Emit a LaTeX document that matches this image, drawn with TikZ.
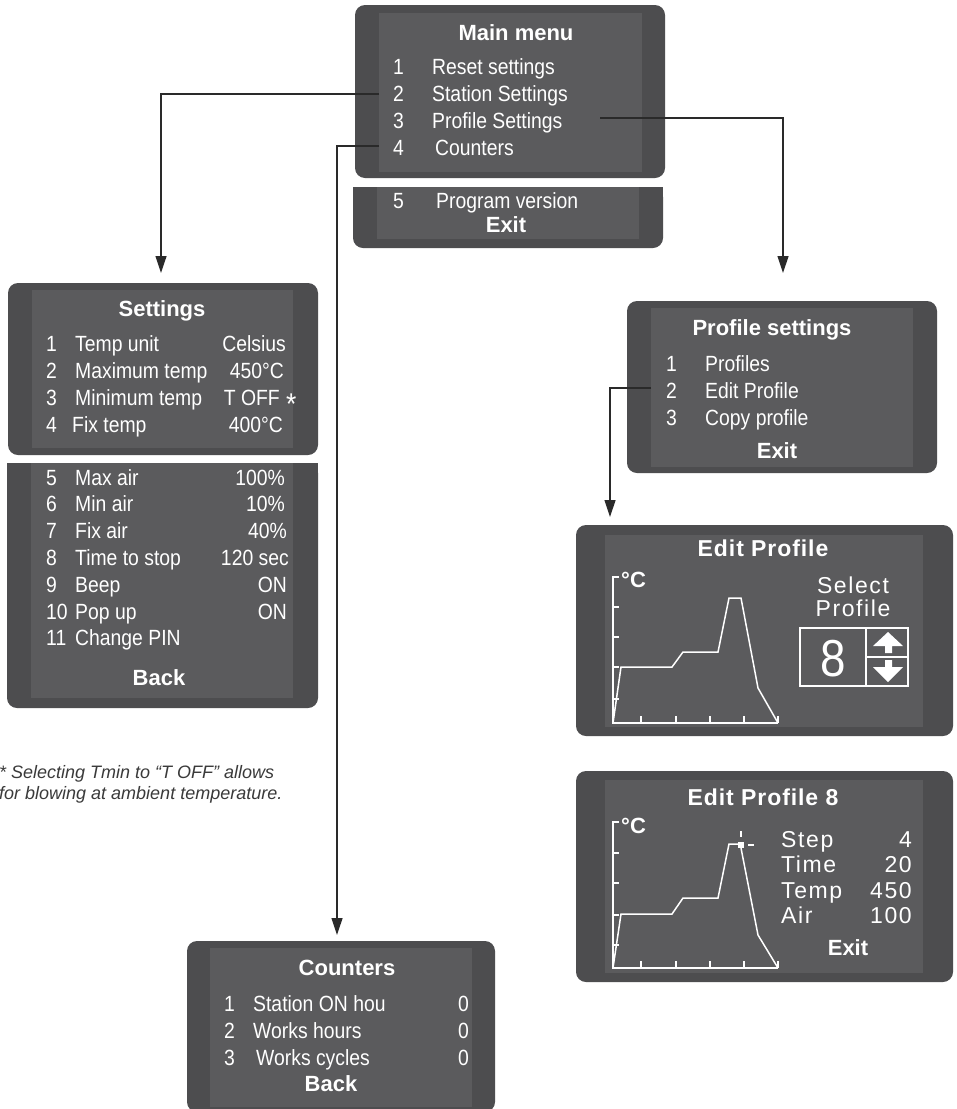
\documentclass[tikz,border=0pt]{standalone}
\usepackage{fontspec}
\setmainfont{Liberation Sans}
\newfontfamily\lcdfont[FakeStretch=0.88]{Liberation Sans}
\newfontfamily\lcdbold{Liberation Sans Bold}
\newfontfamily\lcdwide[LetterSpace=4]{Liberation Sans Bold}
\newfontfamily\lcdspaced[LetterSpace=7]{Liberation Sans}
\usetikzlibrary{arrows.meta}
\definecolor{boxout}{HTML}{4D4D4F}
\definecolor{boxin}{HTML}{5B5B5D}
\definecolor{connc}{HTML}{2A2A2A}
\definecolor{notec}{HTML}{3A3A3A}
\tikzset{
  outerfill/.style={fill=boxout, rounded corners=10pt},
  innerfill/.style={fill=boxin},
  lcd/.style={text=white, font=\lcdfont\fontsize{22}{24}\selectfont, inner sep=0pt, anchor=base west},
  lcdr/.style={lcd, anchor=base east},
  ttl/.style={text=white, font=\lcdbold\fontsize{22}{24}\selectfont, inner sep=0pt, anchor=base},
  ttlw/.style={text=white, font=\lcdwide\fontsize{23}{25}\selectfont, inner sep=0pt, anchor=base},
  spc/.style={text=white, font=\lcdspaced\fontsize{23}{25}\selectfont, inner sep=0pt, anchor=base west},
  spcr/.style={spc, anchor=base east},
  degc/.style={text=white, font=\lcdbold\fontsize{22}{24}\selectfont, inner sep=0pt, anchor=base west},
  chartline/.style={draw=white, line width=1.5pt, line join=miter},
  conn/.style={draw=connc, line width=1.2pt, -{Triangle[width=11pt,length=17pt]}},
  note/.style={text=notec, font=\itshape\fontsize{18}{20}\selectfont, inner sep=0pt, anchor=base west},
}
\begin{document}
\begin{tikzpicture}[x=1pt,y=-1pt]
\useasboundingbox (0,0) rectangle (957,1109);
\fill[white] (0,0) rectangle (957,1109);

% ---------- Main menu ----------
\fill[outerfill] (355,5) rectangle (665,178);
\fill[innerfill] (379,13) rectangle (642,172);
\fill[outerfill] (353,187) rectangle (663,248);
\fill[boxout] (353,187) rectangle (663,200);
\fill[innerfill] (377,187) rectangle (639,239);
\node[ttl] (mmT) at (516,40) {Main menu};
\node[lcd] (mm1n) at (393,74) {1};
\node[lcd] (mm1t) at (432,74) {Reset settings};
\node[lcd] (mm2n) at (393,101) {2};
\node[lcd] (mm2t) at (432,101) {Station Settings};
\node[lcd] (mm3n) at (393,128) {3};
\node[lcd] (mm3t) at (432,128) {Profile Settings};
\node[lcd] (mm4n) at (393,155) {4};
\node[lcd] (mm4t) at (435,155) {Counters};
\node[lcd] (mm5n) at (393,208) {5};
\node[lcd] (mm5t) at (436,208) {Program version};
\node[ttl] (mmX) at (506,232) {Exit};

% ---------- Settings ----------
\fill[outerfill] (8,283) rectangle (318,455);
\fill[innerfill] (32,290) rectangle (293,448);
\fill[outerfill] (7,463) rectangle (318,708);
\fill[boxout] (7,463) rectangle (318,476);
\fill[innerfill] (31,463) rectangle (293,698);
\node[ttl] (stT) at (162,316) {Settings};
\node[lcd] (st1n) at (46,351) {1};
\node[lcd] (st1t) at (75,351) {Temp unit};
\node[lcdr] (st1v) at (286,351) {Celsius};
\node[lcd] (st2n) at (46,378) {2};
\node[lcd] (st2t) at (75,378) {Maximum temp};
\node[lcdr] (st2v) at (284,378) {450°C};
\node[lcd] (st3n) at (46,405) {3};
\node[lcd] (st3t) at (75,405) {Minimum temp};
\node[lcdr] (st3v) at (280,405) {T OFF};
\node[text=white, font=\lcdfont\fontsize{30}{30}\selectfont, inner sep=0pt, anchor=base west, text height=22pt, text depth=-12pt] (st3s) at (286,414) {*};
\node[lcd] (st4n) at (46,432) {4};
\node[lcd] (st4t) at (72,432) {Fix temp};
\node[lcdr] (st4v) at (283,432) {400°C};
\node[lcd] (st5n) at (46,485) {5};
\node[lcd] (st5t) at (75,485) {Max air};
\node[lcdr] (st5v) at (285,485) {100\%};
\node[lcd] (st6n) at (46,511) {6};
\node[lcd] (st6t) at (75,511) {Min air};
\node[lcdr] (st6v) at (285,511) {10\%};
\node[lcd] (st7n) at (46,538) {7};
\node[lcd] (st7t) at (75,538) {Fix air};
\node[lcdr] (st7v) at (287,538) {40\%};
\node[lcd] (st8n) at (46,565) {8};
\node[lcd] (st8t) at (75,565) {Time to stop};
\node[lcdr] (st8v) at (289,565) {120 sec};
\node[lcd] (st9n) at (46,592) {9};
\node[lcd] (st9t) at (75,592) {Beep};
\node[lcdr] (st9v) at (287,592) {ON};
\node[lcd] (st10n) at (46,619) {10};
\node[lcd] (st10t) at (75,619) {Pop up};
\node[lcdr] (st10v) at (287,619) {ON};
\node[lcd] (st11n) at (46,645) {11};
\node[lcd] (st11t) at (75,645) {Change PIN};
\node[ttl] (stB) at (159,685) {Back};

% ---------- Footnote ----------
\node[note] (fn1) at (-1,778) {* Selecting Tmin to “T OFF” allows};
\node[note] (fn2) at (-1,799) {for blowing at ambient temperature.};

% ---------- Profile settings ----------
\fill[outerfill] (627,301) rectangle (937,473);
\fill[innerfill] (651,308) rectangle (913,467);
\node[ttl] (psT) at (772,335) {Profile settings};
\node[lcd] (ps1n) at (666,371) {1};
\node[lcd] (ps1t) at (705,371) {Profiles};
\node[lcd] (ps2n) at (666,398) {2};
\node[lcd] (ps2t) at (705,398) {Edit Profile};
\node[lcd] (ps3n) at (666,425) {3};
\node[lcd] (ps3t) at (705,425) {Copy profile};
\node[ttl] (psX) at (777,458) {Exit};

% ---------- Edit Profile ----------
\fill[outerfill] (576,525) rectangle (953,736);
\fill[innerfill] (605,535) rectangle (923,727);
\node[ttlw] (epT) at (763,556) {Edit Profile};
\node[degc] (epdeg) at (621,587) {°C};
\draw[chartline] (619,577) -- (613,577) -- (613,723) -- (778,723);
\foreach \yy in {607,637,667,699} \draw[chartline] (613,\yy) -- (619,\yy);
\foreach \xx in {641,676,710,744,778} \draw[chartline] (\xx,723) -- (\xx,716);
\draw[chartline] (613,723) -- (621,667) -- (672,667) -- (683,652) -- (718,652) -- (729,598) -- (741,598) -- (758,688) -- (778,723);
\node[spc, anchor=base] (epS1) at (853,593) {Select};
\node[spc, anchor=base] (epS2) at (853,616) {Profile};
\draw[white, line width=1.2pt] (800,628) rectangle (908,686);
\draw[white, line width=1.2pt] (866,628) -- (866,686);
\draw[white, line width=1.2pt] (866,657) -- (908,657);
\node[text=white, font=\lcdfont\fontsize{52}{52}\selectfont, inner sep=0pt, anchor=base] (ep8) at (833,676) {8};
\fill[white] (888,632) -- (903,646) -- (892,646) -- (892,653) -- (885,653) -- (885,646) -- (873,646) -- cycle;
\fill[white] (885,660) -- (892,660) -- (892,667) -- (903,667) -- (888,682) -- (873,667) -- (885,667) -- cycle;

% ---------- Edit Profile 8 ----------
\fill[outerfill] (576,771) rectangle (953,982);
\fill[innerfill] (605,780) rectangle (923,973);
\node[ttlw] (e8T) at (763,805) {Edit Profile 8};
\node[degc] (e8deg) at (621,833) {°C};
\draw[chartline] (619,822) -- (613,822) -- (613,968) -- (778,968);
\foreach \yy in {853,883,915,945} \draw[chartline] (613,\yy) -- (619,\yy);
\foreach \xx in {641,676,710,744,778} \draw[chartline] (\xx,968) -- (\xx,961);
\draw[chartline] (613,968) -- (621,914) -- (672,914) -- (683,898) -- (718,898) -- (729,844) -- (741,844);
\draw[chartline] (741,848) -- (758,935) -- (778,968);
\fill[white] (738,842) rectangle (744,848);
\draw[white, line width=1.2pt] (741,831) -- (741,837);
\draw[white, line width=1.2pt] (748,845) -- (754,845);
\node[spc] (e8r1l) at (781,847) {Step};
\node[spcr] (e8r1v) at (912,847) {4};
\node[spc] (e8r2l) at (781,872) {Time};
\node[spcr] (e8r2v) at (912,872) {20};
\node[spc] (e8r3l) at (781,898) {Temp};
\node[spcr] (e8r3v) at (912,898) {450};
\node[spc] (e8r4l) at (781,923) {Air};
\node[spcr] (e8r4v) at (912,923) {100};
\node[ttl] (e8X) at (848,955) {Exit};

% ---------- Counters ----------
\fill[outerfill] (187,941) rectangle (495,1112);
\fill[innerfill] (210,948) rectangle (472,1107);
\node[ttl] (cnT) at (347,975) {Counters};
\node[lcd] (cn1n) at (224,1011) {1};
\node[lcd] (cn1t) at (253,1011) {Station ON hou};
\node[lcdr] (cn1v) at (469,1011) {0};
\node[lcd] (cn2n) at (224,1038) {2};
\node[lcd] (cn2t) at (253,1038) {Works hours};
\node[lcdr] (cn2v) at (469,1038) {0};
\node[lcd] (cn3n) at (224,1065) {3};
\node[lcd] (cn3t) at (256,1065) {Works cycles};
\node[lcdr] (cn3v) at (469,1065) {0};
\node[ttl] (cnB) at (331,1091) {Back};

% ---------- Connectors ----------
\coordinate (mmrow2) at (379,94);
\coordinate (mmrow3) at (600,118);
\coordinate (mmrow4) at (379,146);
\coordinate (psrow2) at (651,388);
\coordinate (setin) at (161,273);
\coordinate (profin) at (783,273);
\coordinate (cntin) at (337,935);
\coordinate (editin) at (610,517);
\draw[conn] (mmrow2) -| (setin);
\draw[conn] (mmrow3) -| (profin);
\draw[conn] (mmrow4) -| (cntin);
\draw[conn] (psrow2) -| (editin);
\end{tikzpicture}
\end{document}
